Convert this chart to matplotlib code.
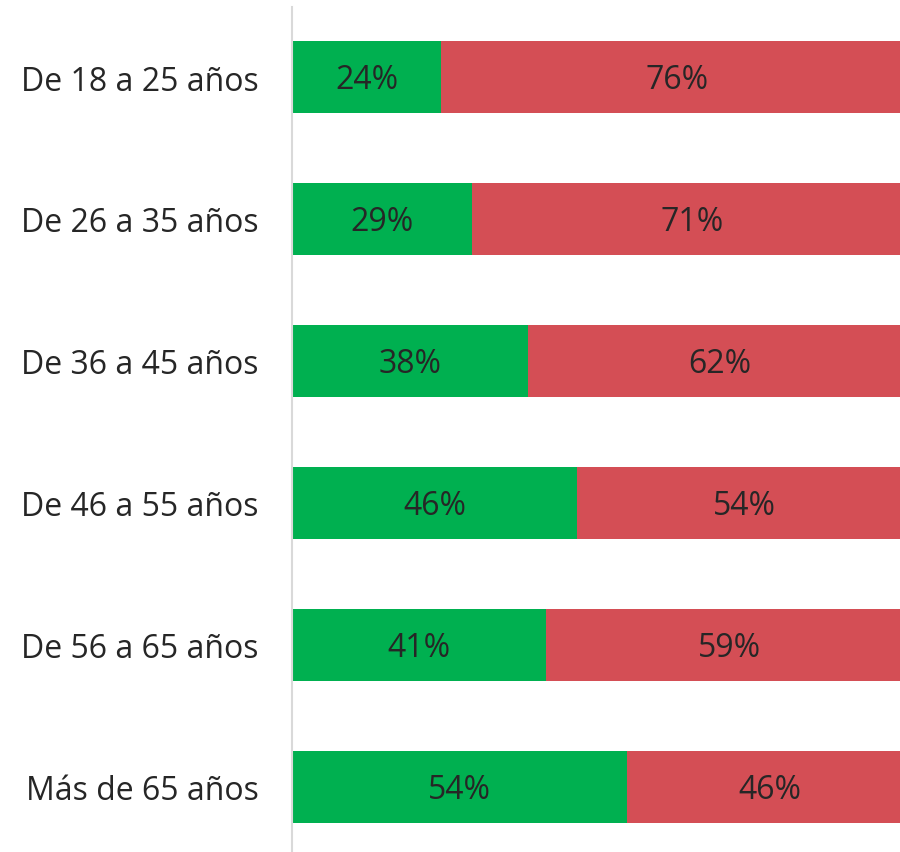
import matplotlib
matplotlib.use("Agg")
import matplotlib.pyplot as plt

categories = ["De 18 a 25 años", "De 26 a 35 años", "De 36 a 45 años",
              "De 46 a 55 años", "De 56 a 65 años", "Más de 65 años"]
si_values = [24, 29, 38, 46, 41, 54]
no_values = [76, 71, 62, 54, 59, 46]

GREEN = "#00b050"
RED = "#d44e55"
TEXT = "#262626"

plt.rcParams["font.family"] = ["Open Sans", "DejaVu Sans"]

fig = plt.figure(figsize=(9, 8.53), dpi=100)
ax = fig.add_axes([292 / 900, 0, 608 / 900, 845 / 853])

y = list(range(len(categories)))
h = 0.507
ax.barh(y, si_values, height=h, color=GREEN, linewidth=0)
ax.barh(y, no_values, left=si_values, height=h, color=RED, linewidth=0)

for i, (s, n) in enumerate(zip(si_values, no_values)):
    ax.text(s / 2, i + 0.02, f"{s}%", ha="center", va="center", fontsize=23, color=TEXT)
    ax.text(s + n / 2, i + 0.02, f"{n}%", ha="center", va="center", fontsize=23, color=TEXT)

# the reference crops the right end of the bars slightly
ax.set_xlim(0, 98)
ax.set_ylim(5.458, -0.493)
ax.set_yticks(y)
ax.set_yticklabels(categories, fontsize=23, color=TEXT)
ax.tick_params(axis="y", length=0, pad=24)
ax.set_xticks([])
for side in ["top", "right", "bottom"]:
    ax.spines[side].set_visible(False)
ax.spines["left"].set_color("#d9d9d9")
ax.spines["left"].set_linewidth(1.5)

fig.savefig("out.png", dpi=100, facecolor="white")
